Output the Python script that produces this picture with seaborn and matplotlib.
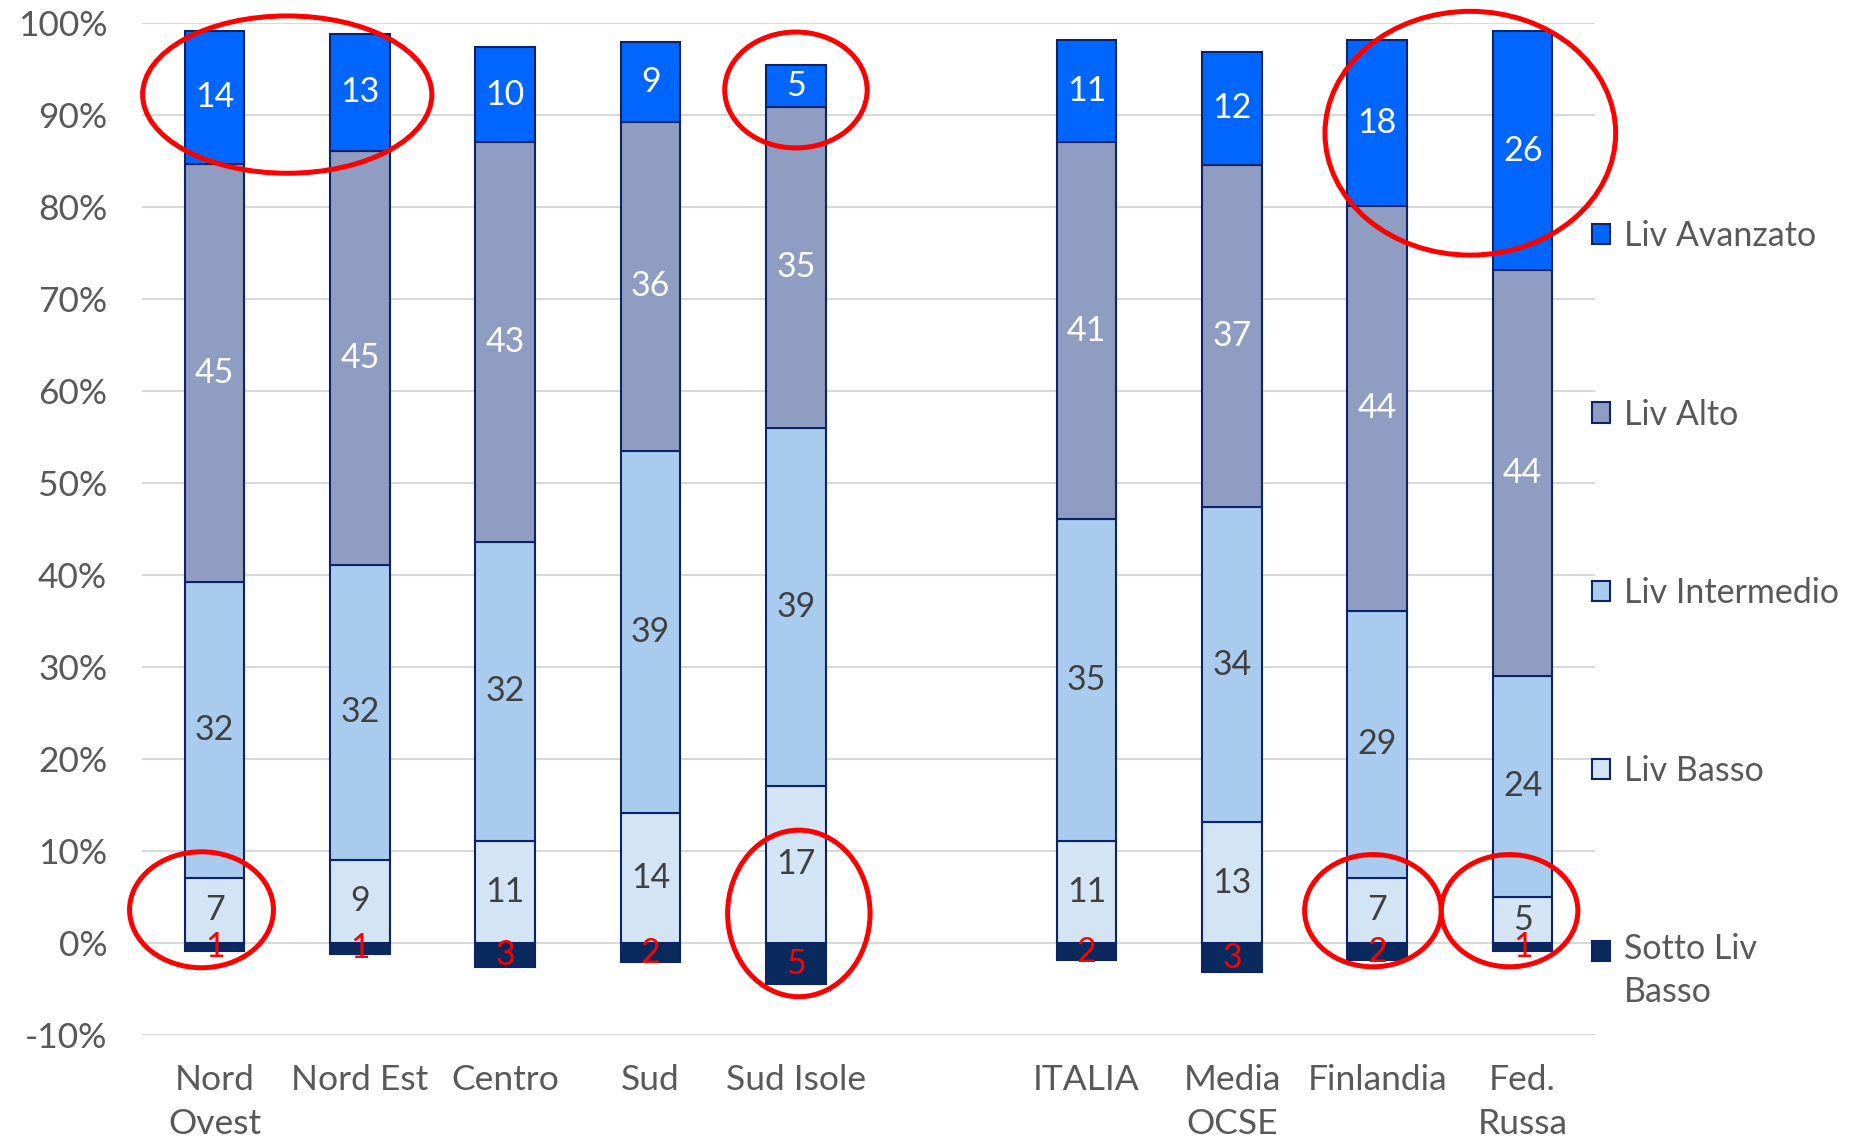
import numpy as np
import pandas as pd
import seaborn as sns
import matplotlib
matplotlib.use("Agg")
import matplotlib.pyplot as plt
from matplotlib.patches import Ellipse, Patch

# categorie (lo spazio vuoto separa le regioni dai paesi)
regioni = ["Nord\nOvest", "Nord Est", "Centro", "Sud", "Sud Isole",
           "ITALIA", "Media\nOCSE", "Finlandia", "Fed.\nRussa"]
ordine = regioni[:5] + [" "] + regioni[5:]

# altezze dei segmenti (%)
sotto_basso = [0.9, 1.2, 2.6, 2.1, 4.5, 1.9, 3.2, 1.9, 0.9]
liv_basso = [7.1, 9.0, 11.1, 14.1, 17.1, 11.1, 13.1, 7.1, 5.0]
liv_intermedio = [32.1, 32.1, 32.5, 39.4, 38.9, 35.0, 34.3, 29.0, 24.0]
liv_alto = [45.5, 45.0, 43.4, 35.7, 34.9, 40.9, 37.2, 44.0, 44.1]
liv_avanzato = [14.4, 12.7, 10.4, 8.7, 4.5, 11.1, 12.2, 18.0, 26.0]

# etichette numeriche
lab_sotto = [1, 1, 3, 2, 5, 2, 3, 2, 1]
lab_basso = [7, 9, 11, 14, 17, 11, 13, 7, 5]
lab_intermedio = [32, 32, 32, 39, 39, 35, 34, 29, 24]
lab_alto = [45, 45, 43, 36, 35, 41, 37, 44, 44]
lab_avanzato = [14, 13, 10, 9, 5, 11, 12, 18, 26]

EDGE = "#0c2466"
GRIGIO = "#595959"

sns.set_theme(style="white")
plt.rcParams["font.family"] = ["Lato", "DejaVu Sans"]

fig = plt.figure(figsize=(18.55, 11.41), dpi=100)
ax = fig.add_axes([0.0765, 0.093, 0.7835, 0.887])

livelli = [
    ("Sotto Liv\nBasso", sotto_basso, lab_sotto, "#0a2a5e", "red", True),
    ("Liv Basso", liv_basso, lab_basso, "#d3e4f5", "#404040", False),
    ("Liv Intermedio", liv_intermedio, lab_intermedio, "#a9cbee", "#404040", False),
    ("Liv Alto", liv_alto, lab_alto, "#8f9dc2", "white", False),
    ("Liv Avanzato", liv_avanzato, lab_avanzato, "#0066ff", "white", False),
]

base = np.zeros(len(regioni))
handles = []
for nome, valori, etichette, colore, col_testo, negativo in livelli:
    valori = np.asarray(valori, dtype=float)
    if negativo:
        altezze = -valori
        fondo = np.zeros(len(regioni))
    else:
        altezze = valori
        fondo = base.copy()
        base = base + valori
    df = pd.DataFrame({"regione": regioni, "valore": altezze})
    sns.barplot(data=df, x="regione", y="valore", order=ordine, color=colore,
                saturation=1, width=0.41, bottom=fondo, edgecolor=EDGE,
                linewidth=1.5, errorbar=None, ax=ax, zorder=3)
    ax.bar_label(ax.containers[-1], labels=[str(e) for e in etichette],
                 label_type="center", color=col_testo, fontsize=24.5, zorder=5)
    handles.append((nome, Patch(facecolor=colore, edgecolor=EDGE, linewidth=1.5)))

ax.set_ylim(-10, 100)
ax.set_xlim(-0.5, len(ordine) - 0.5)
ticks = list(range(-10, 101, 10))
ax.set_yticks(ticks)
ax.set_yticklabels([f"{t}%" for t in ticks])
ax.set_xlabel("")
ax.set_ylabel("")
ax.yaxis.grid(True, color="#d9d9d9", linewidth=1.5)
ax.set_axisbelow(True)
sns.despine(ax=ax, left=True, bottom=True)
ax.tick_params(axis="y", length=0, pad=25, labelsize=25.5, labelcolor=GRIGIO)
ax.tick_params(axis="x", length=0, pad=21, labelsize=25.5, labelcolor=GRIGIO)
for t in ax.get_xticklabels():
    t.set_linespacing(1.45)

# ellissi rosse di evidenziazione
ellissi = [
    (0.5, 92.2, 1.99, 17.1),
    (4.0, 92.7, 0.98, 12.6),
    (8.64, 88.0, 2.0, 26.5),
    (-0.09, 3.6, 0.99, 12.6),
    (4.02, 3.2, 0.98, 18.1),
    (7.97, 3.5, 0.94, 12.2),
    (8.91, 3.5, 0.94, 12.2),
]
for cx, cy, w, h in ellissi:
    ax.add_patch(Ellipse((cx, cy), w, h, fill=False, edgecolor="red",
                         linewidth=3.6, clip_on=False, zorder=10))

handles = handles[::-1]
leg = fig.legend([h for _, h in handles], [n for n, _ in handles],
                 loc="upper left", bbox_to_anchor=(0.858, 0.807), frameon=False,
                 fontsize=24.5, labelcolor=GRIGIO, labelspacing=4.3,
                 handlelength=0.55, handleheight=0.55, handletextpad=0.4,
                 borderpad=0, borderaxespad=0)
for t in leg.get_texts():
    t.set_linespacing(1.4)
# marker dell'ultima voce allineato alla prima riga del testo
ultimo = leg.legend_handles[-1]
ultimo.set_y(ultimo.get_y() + 15)

fig.savefig("out.png", dpi=100)
